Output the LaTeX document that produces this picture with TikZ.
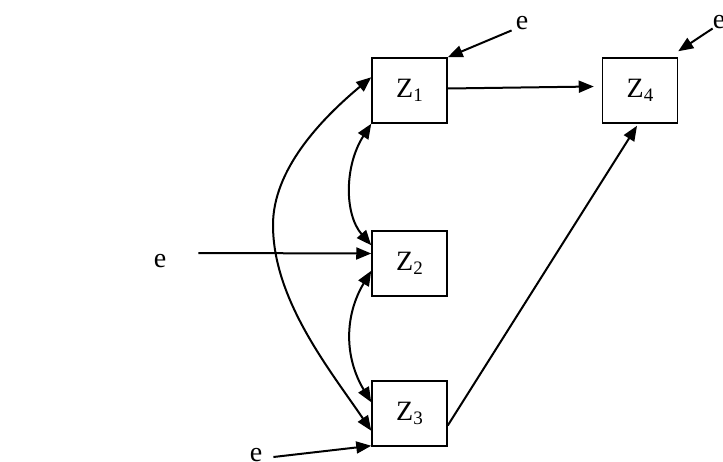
\documentclass[tikz,border=0pt]{standalone}
\usepackage{fontspec}
\setmainfont{Liberation Serif}
\usetikzlibrary{arrows.meta}
\newcommand{\zlab}[1]{Z\raisebox{-4pt}{\fontsize{19}{20}\selectfont #1}}
\begin{document}
\begin{tikzpicture}[x=1pt,y=-1pt,
  zbox/.style={draw,line width=1.5pt,minimum width=75pt,minimum height=65pt,inner sep=0pt,font=\fontsize{28}{30}\selectfont},
  elab/.style={inner sep=0pt,font=\fontsize{28}{30}\selectfont},
  conn/.style={line width=2pt,-{Triangle[length=15pt,width=12pt]}},
  dconn/.style={line width=2pt,{Triangle[length=15pt,width=12pt]}-{Triangle[length=15pt,width=12pt]}}]
\useasboundingbox (0,0) rectangle (723,461);
\node[zbox] (z1) at (409.5,90.5) {\zlab{1}};
\node[zbox] (z4) at (640,90.5) {\zlab{4}};
\node[zbox] (z2) at (409.5,263.5) {\zlab{2}};
\node[zbox] (z3) at (409.5,413.5) {\zlab{3}};
\node[elab] (e1) at (522,23.5) {e};
\node[elab] (e4) at (719,22.5) {e};
\node[elab] (e2) at (160,261) {e};
\node[elab] (e3) at (256,455) {e};
\coordinate (bend) at (273,225);
% connectors
\draw[conn] ([xshift=-4pt]e1.south west) -- (z1.north east);
\draw[conn] ([yshift=-6pt]e4.west) -- ([yshift=6pt]z4.north east);
\draw[conn] ([yshift=2pt]z1.east) -- ([xshift=-8pt,yshift=4pt]z4.west);
\draw[conn] ([xshift=32pt,yshift=8pt]e2.east) -- ([yshift=10pt]z2.west);
\draw[conn] ([xshift=11pt,yshift=-2pt]e3.east) -- ([yshift=1pt]z3.south west);
\draw[conn] ([yshift=-12pt]z3.east) -- ([xshift=-3pt,yshift=-2pt]z4.south);
\draw[dconn] (z1.south west) .. controls +(-27,42) and +(-27,-31) .. ([yshift=-15pt]z2.north west);
\draw[dconn] ([yshift=26pt]z2.south west) .. controls +(-27,45) and +(-27,-45) .. ([yshift=-22pt]z3.north west);
\draw[dconn] ([yshift=-20pt]z1.north west) .. controls (320,120) and (273,170) .. (bend)
  .. controls (273,300) and (330,370) .. ([yshift=16pt]z3.south west);
\end{tikzpicture}
\end{document}
